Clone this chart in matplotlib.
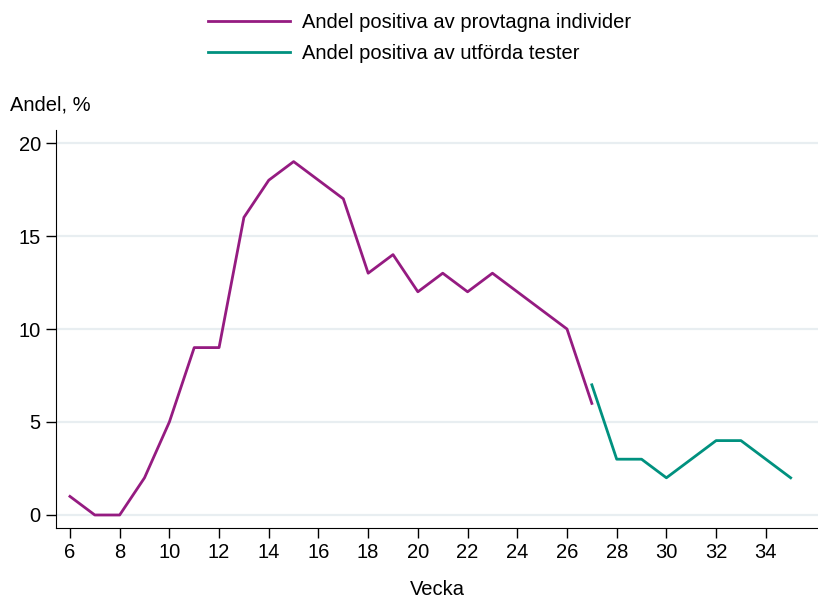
import matplotlib.pyplot as plt

plt.rcParams['font.family'] = ['Liberation Sans', 'DejaVu Sans']

weeks_ind = [6, 7, 8, 9, 10, 11, 12, 13, 14, 15, 16, 17, 18, 19, 20, 21, 22, 23, 24, 25, 26, 27]
share_ind = [1, 0, 0, 2, 5, 9, 9, 16, 18, 19, 18, 17, 13, 14, 12, 13, 12, 13, 12, 11, 10, 6]

weeks_test = [27, 28, 29, 30, 31, 32, 33, 34, 35]
share_test = [7, 3, 3, 2, 3, 4, 4, 3, 2]

label_ind = "Andel positiva av provtagna individer"
label_test = "Andel positiva av utförda tester"

fig = plt.figure(figsize=(8.18, 5.99), dpi=100)
ax = fig.add_axes([0.0685, 0.1185, 0.9315, 0.6645])

for y in [0, 5, 10, 15, 20]:
	ax.axhline(y, color='#e8eef1', lw=1.6, zorder=0)

ax.plot(weeks_ind, share_ind, color='#951b81', lw=2, label=label_ind)
ax.plot(weeks_test, share_test, color='#00917f', lw=2, label=label_test)

ax.set_xlim(5.44, 36.1)
ax.set_ylim(-0.7, 20.7)
ax.set_xticks(range(6, 35, 2))
ax.set_yticks([0, 5, 10, 15, 20])
ax.tick_params(labelsize=14.5, length=7, width=1, direction='out', pad=4)
ax.spines['top'].set_visible(False)
ax.spines['right'].set_visible(False)
ax.set_xlabel("Vecka", fontsize=14.5, labelpad=13)
fig.text(0.012, 0.825, "Andel, %", fontsize=14.5, ha='left', va='center')

fig.legend(loc='upper left', bbox_to_anchor=(0.254, 0.978), frameon=False,
	borderpad=0, borderaxespad=0,
	fontsize=14.5, handlelength=4.1, handletextpad=0.6, labelspacing=0.6)

fig.savefig('out.png', dpi=100)
